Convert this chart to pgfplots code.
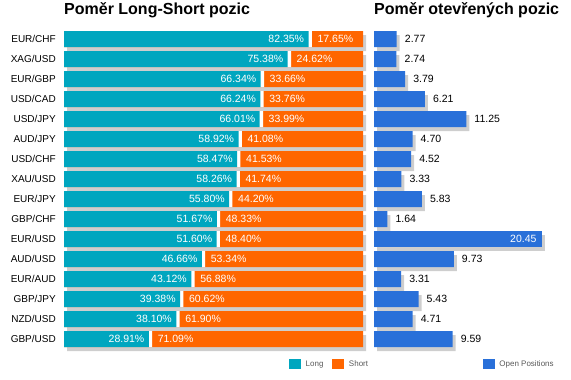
\documentclass[border=0pt]{standalone}
\usepackage{fontspec}
\setmainfont{Liberation Sans}
\usepackage{pgfplots}
\usepackage{pgfplotstable}
\pgfplotsset{compat=1.18}
\definecolor{tealc}{RGB}{0,166,191}
\definecolor{orangec}{RGB}{255,102,0}
\definecolor{bluec}{RGB}{41,112,217}
\definecolor{shadowc}{RGB}{206,206,206}

\pgfplotstableread{
idx pair L S
0 EUR/CHF 82.35 17.65
1 XAG/USD 75.38 24.62
2 EUR/GBP 66.34 33.66
3 USD/CAD 66.24 33.76
4 USD/JPY 66.01 33.99
5 AUD/JPY 58.92 41.08
6 USD/CHF 58.47 41.53
7 XAU/USD 58.26 41.74
8 EUR/JPY 55.80 44.20
9 GBP/CHF 51.67 48.33
10 EUR/USD 51.60 48.40
11 AUD/USD 46.66 53.34
12 EUR/AUD 43.12 56.88
13 GBP/JPY 39.38 60.62
14 NZD/USD 38.10 61.90
15 GBP/USD 28.91 71.09
}\lsdata

\pgfplotstableread{
idx V
0 2.77
1 2.74
2 3.79
3 6.21
4 11.25
5 4.70
6 4.52
7 3.33
8 5.83
9 1.64
11 9.73
12 3.31
13 5.43
14 4.71
15 9.59
}\posA

\pgfplotstableread{
idx V
10 20.45
}\posB

\tikzset{numfont/.style={font=\fontsize{10.5bp}{12bp}\selectfont}}

\pgfplotsset{
  panel/.style={scale only axis, height=320bp, ymin=-0.5, ymax=15.5, y dir=reverse,
    axis line style={draw=none}, tick style={draw=none}, major tick length=0pt,
    xtick=\empty, ytick=\empty, clip=false, anchor=south west,
    title style={at={(0,1)}, anchor=base west, yshift=8.3bp, inner sep=0pt,
      font=\bfseries\fontsize{16bp}{18bp}\selectfont},
    legend style={draw=none, fill=none, inner sep=0pt, anchor=west,
      font=\fontsize{8bp}{9bp}\selectfont, text=black!65,
      /tikz/every odd column/.append style={column sep=2.5bp},
      /tikz/every even column/.append style={column sep=7bp}},
    legend image code/.code={\fill[##1, draw=none] (0bp,-5bp) rectangle (12bp,5bp);},
  },
  lpanel/.style={panel, at={(64bp,31bp)}, width=299bp, xmin=0, xmax=100},
  rpanel/.style={panel, at={(374bp,31bp)}, width=180bp, xmin=0, xmax=21.95},
  hbar/.style={xbar, bar width=16bp, bar shift=0pt, draw=none},
  shadow/.style={hbar, fill=shadowc, xshift=3bp, yshift=-4bp, forget plot},
}

\begin{document}
\begin{tikzpicture}
\path[use as bounding box] (0,0) rectangle (571bp,380bp);

\begin{axis}[lpanel,
  ytick={0,...,15}, yticklabels from table={\lsdata}{pair},
  yticklabel style={font=\fontsize{10bp}{12bp}\selectfont, anchor=east, inner sep=0pt, xshift=-8bp},
  title={Poměr Long-Short pozic},
  legend columns=2,
  legend style={at={(axis description cs:0.7525,-0.0469)}}]
\addplot[shadow] table[x expr=\thisrow{L}+\thisrow{S}, y=idx]{\lsdata};
\addplot[hbar, fill=orangec, forget plot] table[x expr=\thisrow{L}+\thisrow{S}, y=idx]{\lsdata};
\addplot[hbar, fill=white, forget plot, point meta=explicit symbolic,
  nodes near coords={\pgfplotspointmeta\%},
  every node near coord/.append style={anchor=west, inner sep=0pt, xshift=5.5bp, text=white, numfont}]
  table[x expr=\thisrow{L}+0.55, y=idx, meta=S]{\lsdata};
\addplot[hbar, fill=tealc, forget plot, point meta=explicit symbolic,
  nodes near coords={\pgfplotspointmeta\%},
  every node near coord/.append style={anchor=east, inner sep=0pt, xshift=-4.3bp, text=white, numfont}]
  table[x expr=\thisrow{L}-0.55, y=idx, meta=L]{\lsdata};
\addlegendimage{fill=tealc}
\addlegendentry{Long}
\addlegendimage{fill=orangec}
\addlegendentry{Short}
\end{axis}

\begin{axis}[rpanel,
  title={Poměr otevřených pozic},
  legend style={at={(axis description cs:0.604,-0.0469)}}]
\addplot[shadow] table[x=V, y=idx]{\posA};
\addplot[shadow] table[x=V, y=idx]{\posB};
\addplot[hbar, fill=bluec, forget plot, point meta=explicit symbolic,
  nodes near coords={\pgfplotspointmeta},
  every node near coord/.append style={anchor=west, inner sep=0pt, xshift=8bp, text=black, numfont}]
  table[x=V, y=idx, meta=V]{\posA};
\addplot[hbar, fill=bluec, forget plot, point meta=explicit symbolic,
  nodes near coords={\pgfplotspointmeta},
  every node near coord/.append style={anchor=east, inner sep=0pt, xshift=-5bp, text=white, numfont}]
  table[x=V, y=idx, meta=V]{\posB};
\addlegendimage{fill=bluec}
\addlegendentry{Open Positions}
\end{axis}
\end{tikzpicture}
\end{document}
